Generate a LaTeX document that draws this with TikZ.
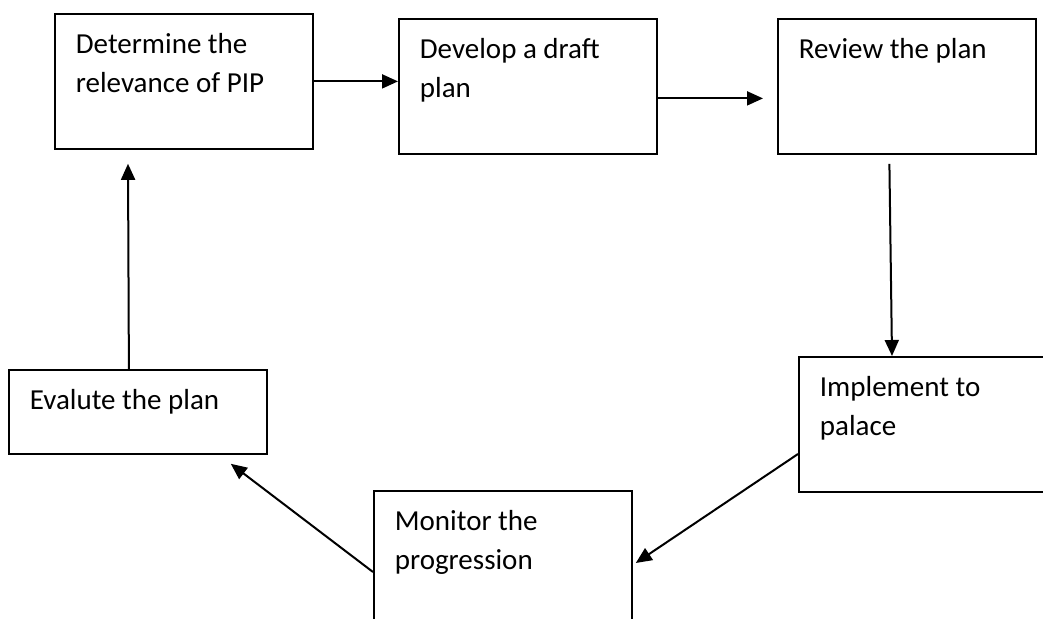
\documentclass[tikz,border=0pt]{standalone}
\usepackage{fontspec}
\setmainfont{Carlito}
\usepackage{tikz}
\usetikzlibrary{calc,arrows.meta}

% text of a stage box: fixed height, text starts at the top
\newcommand{\stagetext}[2]{\parbox[t][#1][t]{108pt}{\raggedright\strut #2}}

\begin{document}
\begin{tikzpicture}[x=0.5pt,y=-0.5pt,
    stage/.style={draw,line width=0.9pt,anchor=north west,inner xsep=10.5pt,inner ysep=6.35pt,
      font=\fontsize{14.5}{19.5}\selectfont},
    flow/.style={-{Triangle[length=8pt,width=7pt]},line width=1pt}]
      \useasboundingbox (0,0) rectangle (1043,619);
      \clip (0,0) rectangle (1043,619);
      \fill[white] (0,0) rectangle (1043,619);
      \node[stage] (det) at (54,13) {\stagetext{54.8pt}{Determine the\\relevance of PIP}};
      \node[stage] (dev) at (398,18) {\stagetext{54.8pt}{Develop a draft\\plan}};
      \node[stage] (rev) at (777,18) {\stagetext{54.8pt}{Review the plan}};
      \node[stage] (imp) at (798,356) {\stagetext{54.8pt}{Implement to\\palace}};
      \node[stage] (mon) at (373,490) {\stagetext{54.8pt}{Monitor the\\progression}};
      \node[stage] (eva) at (8,369) {\stagetext{29.3pt}{Evalute the plan}};
      \draw[flow] (det.east) -- (det.east -| dev.west);
      \draw[flow] ($(dev.east)+(0,12)$) -- ($(rev.west)+(-14,12)$);
      \draw[flow] ($(rev.south)+(-17.5,9)$) -- ($(imp.north west)+(94,0)$);
      \draw[flow] ($(imp.north west)+(0,98)$) -- ($(mon.north east)+(3,73)$);
      \draw[flow] ($(mon.north west)+(0,82)$) -- ($(eva.south east)+(-37,9)$);
      \draw[flow] ($(eva.north)+(-9,0)$) -- ($(det.south west)+(74,14)$);
\end{tikzpicture}
\end{document}
